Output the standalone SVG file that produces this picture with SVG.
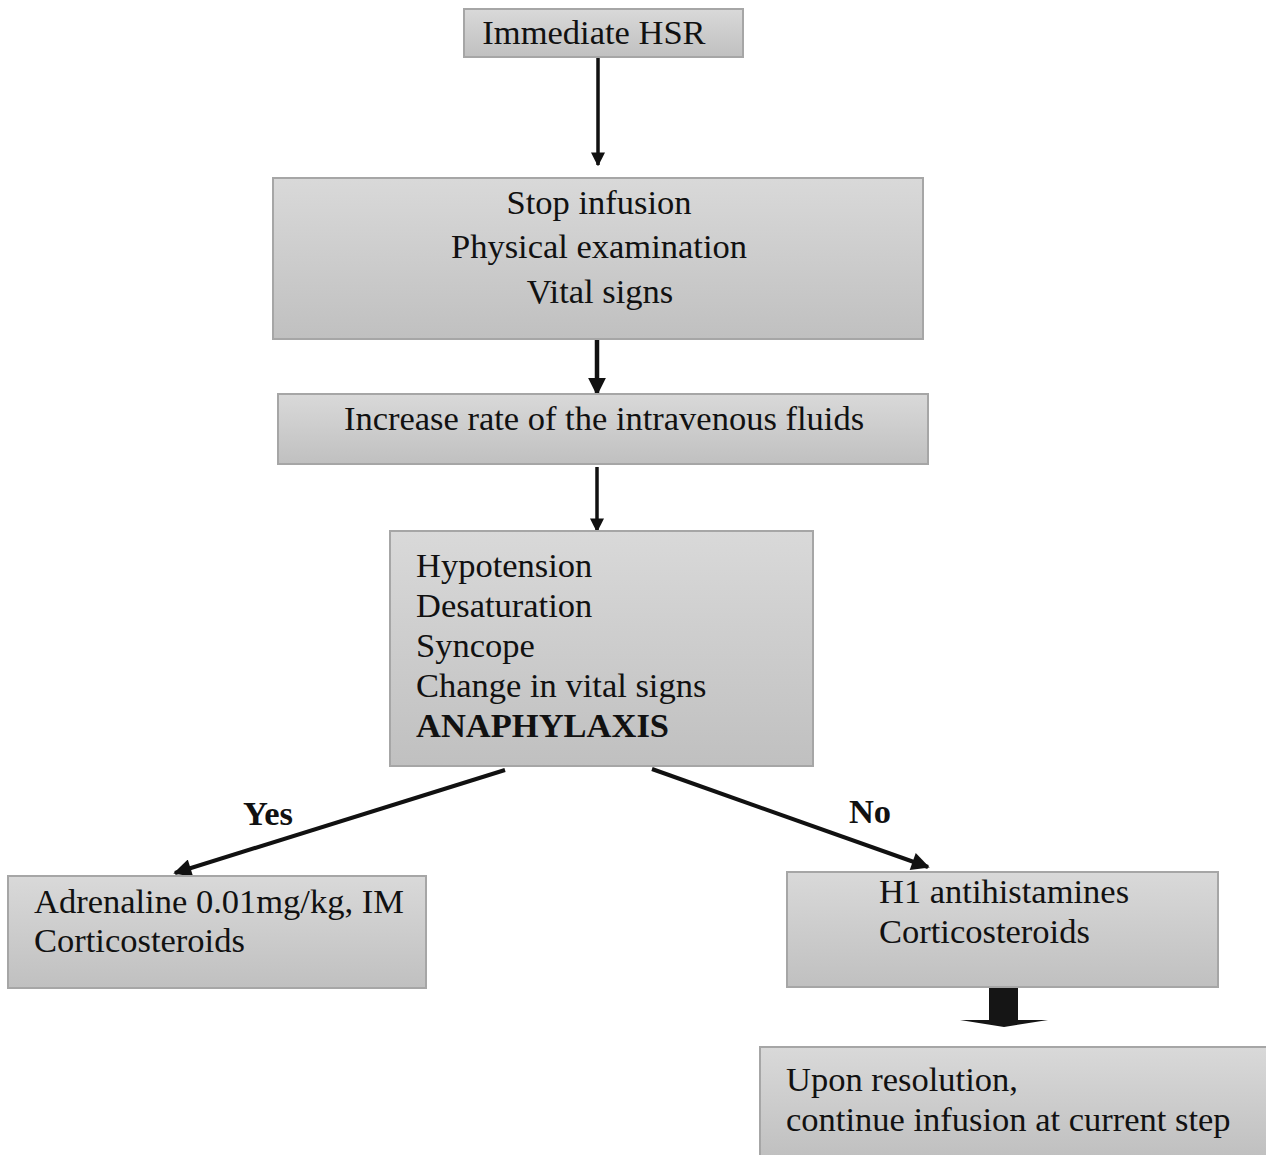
<svg xmlns="http://www.w3.org/2000/svg" width="1266" height="1155" viewBox="0 0 1266 1155">
<defs>
<linearGradient id="g" x1="0" y1="0" x2="0" y2="1">
<stop offset="0" stop-color="#d9d9d9"/>
<stop offset="1" stop-color="#c0c0c0"/>
</linearGradient>
<marker id="ah" viewBox="0 0 10 10" refX="9" refY="5" markerWidth="4" markerHeight="4" markerUnits="strokeWidth" orient="auto">
<path d="M0,0 L10,5 L0,10 z" fill="#111"/>
</marker>
<marker id="ah2" viewBox="0 0 10 10" refX="9" refY="5" markerWidth="5" markerHeight="4.5" markerUnits="strokeWidth" orient="auto">
<path d="M0,0 L10,5 L0,10 z" fill="#111"/>
</marker>
<style>
.box{fill:url(#g);stroke:#a6a6a6;stroke-width:2}
.t{font-family:"Liberation Serif","Times New Roman",serif;font-size:34.5px;fill:#111}
.c{text-anchor:middle}
.b{font-weight:bold}
.ln{stroke:#111;fill:none;marker-end:url(#ah)}
.ln2{stroke:#111;fill:none;marker-end:url(#ah2)}
</style>
</defs>
<rect width="1266" height="1155" fill="#fff"/>
<g id="connectors">
<line class="ln" x1="598" y1="57" x2="598" y2="165" stroke-width="3.5"/>
<line class="ln" x1="597" y1="340" x2="597" y2="394" stroke-width="4.5"/>
<line class="ln" x1="597" y1="467" x2="597" y2="531" stroke-width="3.5"/>
<line class="ln2" x1="505" y1="770" x2="175" y2="873" stroke-width="4"/>
<line class="ln2" x1="652" y1="769" x2="928" y2="867" stroke-width="4"/>
<path d="M989,988 L1018,988 L1018,1020 L1048,1020 L1004,1027 L960,1020 L989,1020 z" fill="#151515"/>
<text class="t b" x="268" y="825" text-anchor="middle">Yes</text>
<text class="t b" x="870" y="823" text-anchor="middle">No</text>
</g>
<g id="n1">
<rect class="box" x="464" y="9" width="279" height="48"/>
<text class="t c" x="594" y="44">Immediate HSR</text>
</g>
<g id="n2">
<rect class="box" x="273" y="178" width="650" height="161"/>
<text class="t c" x="599" y="214">Stop infusion</text>
<text class="t c" x="599" y="258">Physical examination</text>
<text class="t c" x="600" y="303">Vital signs</text>
</g>
<g id="n3">
<rect class="box" x="278" y="394" width="650" height="70"/>
<text class="t c" x="604" y="430">Increase rate of the intravenous fluids</text>
</g>
<g id="n4">
<rect class="box" x="390" y="531" width="423" height="235"/>
<text class="t" x="416" y="577">Hypotension</text>
<text class="t" x="416" y="617">Desaturation</text>
<text class="t" x="416" y="657">Syncope</text>
<text class="t" x="416" y="697">Change in vital signs</text>
<text class="t b" x="416" y="737">ANAPHYLAXIS</text>
</g>
<g id="n5">
<rect class="box" x="8" y="876" width="418" height="112"/>
<text class="t" x="34" y="913">Adrenaline 0.01mg/kg, IM</text>
<text class="t" x="34" y="952">Corticosteroids</text>
</g>
<g id="n6">
<rect class="box" x="787" y="872" width="431" height="115"/>
<text class="t" x="879" y="903">H1 antihistamines</text>
<text class="t" x="879" y="943">Corticosteroids</text>
</g>
<g id="n7">
<rect class="box" x="760" y="1047" width="508" height="110"/>
<text class="t" x="786" y="1091">Upon resolution,</text>
<text class="t" x="786" y="1131">continue infusion at current step</text>
</g>
</svg>
